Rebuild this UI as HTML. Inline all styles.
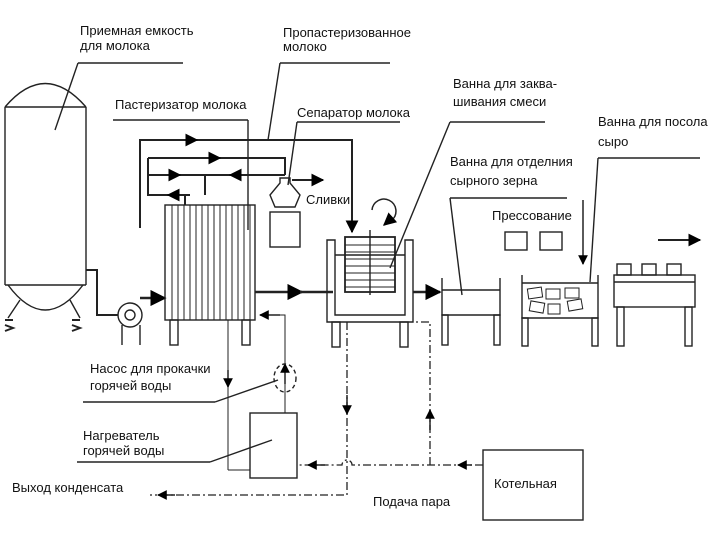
<!DOCTYPE html>
<html><head><meta charset="utf-8"><style>
html,body{margin:0;padding:0;background:#fff;}
svg{display:block;}
text{font-family:"Liberation Sans",sans-serif;font-size:13px;fill:#111;}
</style></head><body>
<svg width="720" height="540" viewBox="0 0 720 540" xmlns="http://www.w3.org/2000/svg">
<defs>
<marker id="a" viewBox="0 0 10 10" refX="9" refY="5" markerWidth="6.5" markerHeight="6.5" orient="auto"><path d="M0,0L10,5L0,10z" fill="#000"/></marker>
</defs>
<g fill="none" stroke="#222" stroke-width="1.4">
<path d="M5,107 Q45,60 86,107"/>
<line x1="5" y1="107" x2="86" y2="107"/>
<line x1="5" y1="107" x2="5" y2="285"/><line x1="86" y1="107" x2="86" y2="285"/>
<line x1="5" y1="285" x2="86" y2="285"/>
<path d="M8,285 Q45,335 83,285"/>
<path d="M20,300 L8,318 M70,300 L80,318"/>
<path d="M5,320 h8 M5,325 l8,3 l-8,3 M72,320 h8 M72,325 l8,3 l-8,3" stroke-width="2"/>
<line x1="78" y1="63" x2="183" y2="63"/><line x1="78" y1="63" x2="55" y2="130"/>
<path d="M86,270 H97 V315 H118" stroke-width="2"/>
<circle cx="130" cy="315" r="12"/><circle cx="130" cy="315" r="5"/>
<line x1="122" y1="325" x2="122" y2="345"/><line x1="140" y1="325" x2="140" y2="345"/>
<line x1="140" y1="298" x2="165" y2="298" stroke-width="2.5" marker-end="url(#a)"/>
<rect x="165" y="205" width="90" height="115"/>
<g stroke-width="1">
<line x1="172" y1="205" x2="172" y2="320"/><line x1="178" y1="205" x2="178" y2="320"/><line x1="184" y1="205" x2="184" y2="320"/><line x1="190" y1="205" x2="190" y2="320"/><line x1="196" y1="205" x2="196" y2="320"/><line x1="202" y1="205" x2="202" y2="320"/><line x1="208" y1="205" x2="208" y2="320"/><line x1="214" y1="205" x2="214" y2="320"/><line x1="220" y1="205" x2="220" y2="320"/><line x1="226" y1="205" x2="226" y2="320"/><line x1="232" y1="205" x2="232" y2="320"/><line x1="238" y1="205" x2="238" y2="320"/><line x1="244" y1="205" x2="244" y2="320"/><line x1="250" y1="205" x2="250" y2="320"/>
</g>
<rect x="170" y="320" width="8" height="25"/><rect x="242" y="320" width="8" height="25"/>
<path d="M140,228 V140 H352 V230" stroke-width="2" />
<line x1="352" y1="215" x2="352" y2="232" stroke-width="2" marker-end="url(#a)"/>
<line x1="175" y1="140" x2="197" y2="140" stroke-width="2" marker-end="url(#a)"/>
<path d="M148,158 H285 V175 M148,158 V195 H185 V205" stroke-width="2"/>
<path d="M148,175 H205 V195 M285,175 H205" stroke-width="2"/>
<line x1="200" y1="158" x2="220" y2="158" stroke-width="2" marker-end="url(#a)"/>
<line x1="160" y1="175" x2="180" y2="175" stroke-width="2" marker-end="url(#a)"/>
<line x1="250" y1="175" x2="230" y2="175" stroke-width="2" marker-end="url(#a)"/>
<line x1="190" y1="195" x2="168" y2="195" stroke-width="2" marker-end="url(#a)"/>
<line x1="113" y1="120" x2="248" y2="120"/><line x1="248" y1="120" x2="248" y2="230"/>
<line x1="280" y1="63" x2="390" y2="63"/><line x1="280" y1="63" x2="268" y2="140"/>
<line x1="297" y1="122" x2="400" y2="122"/><line x1="297" y1="122" x2="288" y2="185"/>
<path d="M280,178 h10 v5 l10,12 l-5,12 h-20 l-5,-12 l10,-12 z"/>
<rect x="270" y="212" width="30" height="35"/>
<line x1="292" y1="180" x2="323" y2="180" stroke-width="2" marker-end="url(#a)"/>
<line x1="255" y1="292" x2="302" y2="292" stroke-width="2.5" marker-end="url(#a)"/>
<line x1="300" y1="292" x2="333" y2="292" stroke-width="2.5"/>
<path d="M327,240 h8 v75 h70 v-75 h8 v82 h-86 z"/>
<line x1="335" y1="255" x2="405" y2="255"/>
<rect x="345" y="237" width="50" height="55" stroke-width="1.8"/>
<line x1="370" y1="230" x2="370" y2="295"/>
<g stroke-width="1"><line x1="345" y1="245" x2="395" y2="245"/><line x1="345" y1="252" x2="395" y2="252"/><line x1="345" y1="259" x2="395" y2="259"/><line x1="345" y1="266" x2="395" y2="266"/><line x1="345" y1="273" x2="395" y2="273"/><line x1="345" y1="280" x2="395" y2="280"/><line x1="345" y1="287" x2="395" y2="287"/></g>
<rect x="332" y="322" width="8" height="25"/><rect x="400" y="322" width="8" height="25"/>
<path d="M372,210 A12,12 0 1 1 392,220" stroke-width="1.5"/>
<line x1="392" y1="218" x2="384" y2="225" stroke-width="2" marker-end="url(#a)"/>
<line x1="450" y1="122" x2="545" y2="122"/><line x1="450" y1="122" x2="390" y2="268"/>
<line x1="413" y1="292" x2="440" y2="292" stroke-width="2.5" marker-end="url(#a)"/>
<path d="M442,278 V315 H500 V278"/><line x1="442" y1="290" x2="500" y2="290"/>
<rect x="442" y="315" width="6" height="30"/><rect x="494" y="315" width="6" height="30"/>
<line x1="450" y1="198" x2="567" y2="198"/><line x1="450" y1="198" x2="462" y2="295"/>
<rect x="505" y="232" width="22" height="18"/><rect x="540" y="232" width="22" height="18"/>
<line x1="583" y1="200" x2="583" y2="264" stroke-width="1.5" marker-end="url(#a)"/>
<path d="M522,275 V318 H598 V275"/><line x1="522" y1="283" x2="598" y2="283"/>
<rect x="522" y="318" width="6" height="28"/><rect x="592" y="318" width="6" height="28"/>
<g stroke-width="1"><rect x="528" y="288" width="14" height="10" transform="rotate(-8 535 293)"/><rect x="546" y="289" width="14" height="10"/><rect x="565" y="288" width="14" height="10"/><rect x="530" y="302" width="14" height="10" transform="rotate(10 537 307)"/><rect x="548" y="304" width="12" height="10"/><rect x="568" y="300" width="14" height="10" transform="rotate(-10 575 305)"/></g>
<line x1="598" y1="158" x2="700" y2="158"/><line x1="598" y1="158" x2="590" y2="282"/>
<rect x="614" y="275" width="81" height="32"/><line x1="614" y1="282" x2="695" y2="282"/>
<rect x="617" y="264" width="14" height="11"/><rect x="642" y="264" width="14" height="11"/><rect x="667" y="264" width="14" height="11"/>
<rect x="617" y="307" width="7" height="39"/><rect x="685" y="307" width="7" height="39"/>
<line x1="658" y1="240" x2="700" y2="240" stroke-width="2" marker-end="url(#a)"/>
<line x1="228" y1="320" x2="228" y2="470" stroke-width="1"/>
<line x1="228" y1="470" x2="250" y2="470" stroke-width="1"/>
<line x1="228" y1="370" x2="228" y2="387" stroke-width="1.5" marker-end="url(#a)"/>
<path d="M285,413 V315 H262" stroke-width="1"/>
<line x1="280" y1="315" x2="260" y2="315" stroke-width="1.5" marker-end="url(#a)"/>
<line x1="285" y1="384" x2="285" y2="364" stroke-width="1.5" marker-end="url(#a)"/>
<ellipse cx="285" cy="378" rx="11" ry="14" stroke-dasharray="4,3"/>
<rect x="250" y="413" width="47" height="65"/>
<line x1="83" y1="402" x2="215" y2="402"/><line x1="215" y1="402" x2="278" y2="380"/>
<line x1="77" y1="462" x2="210" y2="462"/><line x1="210" y1="462" x2="272" y2="440"/>
<rect x="483" y="450" width="100" height="70"/>
<g stroke-dasharray="8,3,2,3" stroke-width="1.3">
<path d="M483,465 H352 A5,5 0 0 0 342,465 H297"/>
<path d="M430,465 V322 H413"/>
<path d="M347,322 V495 H150"/>
</g>
<line x1="472" y1="465" x2="458" y2="465" stroke-width="1.5" marker-end="url(#a)"/>
<line x1="325" y1="465" x2="308" y2="465" stroke-width="1.5" marker-end="url(#a)"/>
<line x1="430" y1="430" x2="430" y2="410" stroke-width="1.5" marker-end="url(#a)"/>
<line x1="347" y1="395" x2="347" y2="414" stroke-width="1.5" marker-end="url(#a)"/>
<line x1="175" y1="495" x2="158" y2="495" stroke-width="1.5" marker-end="url(#a)"/>
</g>
<text x="80" y="35">Приемная емкость</text>
<text x="80" y="50">для молока</text>
<text x="283" y="37">Пропастеризованное</text>
<text x="283" y="51">молоко</text>
<text x="115" y="109">Пастеризатор молока</text>
<text x="297" y="117">Сепаратор  молока</text>
<text x="306" y="204">Сливки</text>
<text x="453" y="88">Ванна для заква-</text>
<text x="453" y="106">шивания смеси</text>
<text x="598" y="126">Ванна для посола</text>
<text x="598" y="146">сыро</text>
<text x="450" y="166">Ванна для отделния</text>
<text x="450" y="185">сырного зерна</text>
<text x="492" y="220">Прессование</text>
<text x="90" y="373">Насос для прокачки</text>
<text x="90" y="390">горячей воды</text>
<text x="83" y="440">Нагреватель</text>
<text x="83" y="455">горячей воды</text>
<text x="12" y="492">Выход конденсата</text>
<text x="373" y="506">Подача пара</text>
<text x="494" y="488">Котельная</text>
</svg>
</body></html>
